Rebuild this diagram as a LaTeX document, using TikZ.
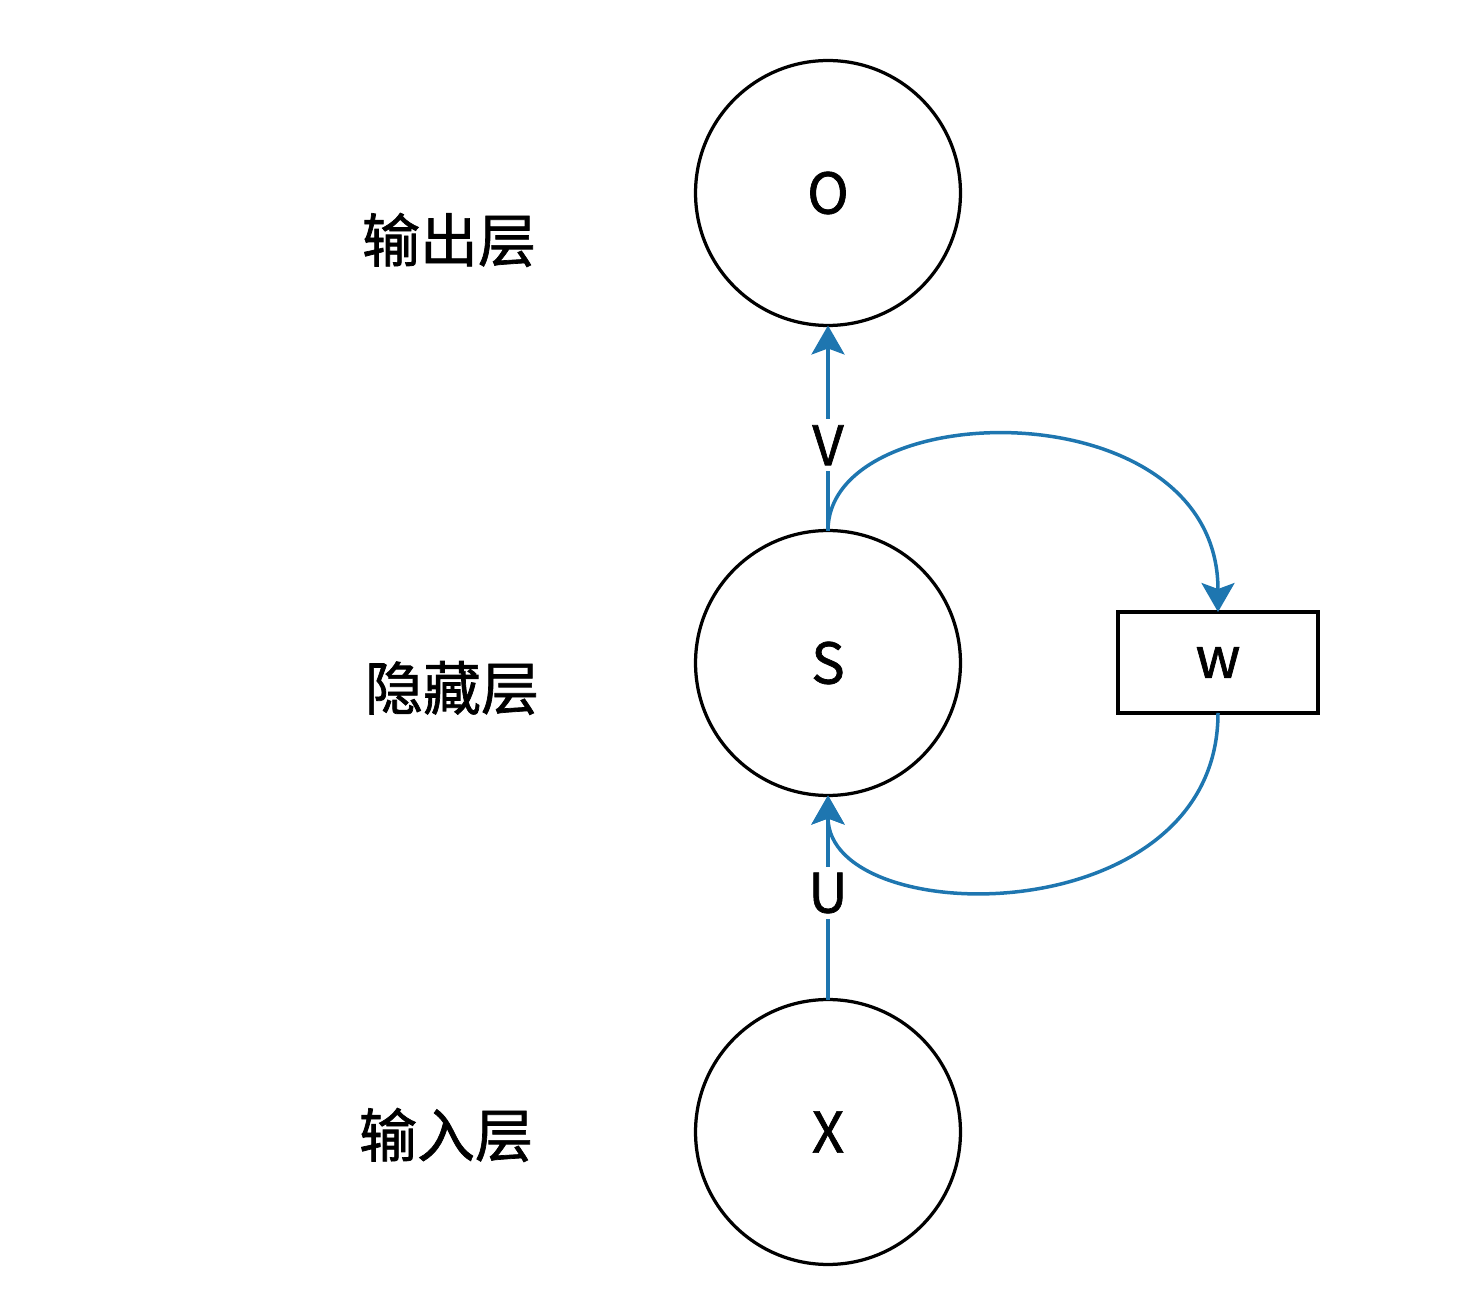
\documentclass[tikz,border=0pt]{standalone}
\usepackage{fontspec}
\setmainfont{Noto Sans CJK SC}[FakeBold=1.2]
\usetikzlibrary{arrows.meta}
\definecolor{lineblue}{RGB}{30,118,176}
\tikzset{
  neuron/.style={circle, draw=black, line width=0.065cm, minimum size=5.3cm, inner sep=0pt, outer sep=0pt, font=\fontsize{32}{36}\selectfont},
  wbox/.style={rectangle, draw=black, line width=0.065cm, minimum width=4.0cm, minimum height=2.02cm, inner sep=0pt, outer sep=0pt, font=\fontsize{32}{36}\selectfont},
  layerlabel/.style={font=\fontsize{33}{36}\selectfont, inner sep=0pt},
  wlabel/.style={fill=white, font=\fontsize{31}{36}\selectfont, inner sep=0.12cm},
  conn/.style={draw=lineblue, line width=0.07cm},
  tip/.style={-{Stealth[length=0.58cm, width=0.66cm, inset=0.12cm]}}
}
\begin{document}
\begin{tikzpicture}[x=0.02cm, y=-0.02cm]
\useasboundingbox (0,0) rectangle (1468,1290);
\node[neuron] (o) at (828,193) {O};
\node[neuron] (s) at (828,663) {S};
\node[neuron] (x) at (828,1132) {X};
\node[wbox] (w) at (1218,662.5) {w};
\node[layerlabel] (lo) at (449,240) {输出层};
\node[layerlabel] (ls) at (452,688) {隐藏层};
\node[layerlabel] (lx) at (446,1135) {输入层};
\draw[conn, tip] (s.north) -- node[wlabel, text=black, pos=0.416] (vl) {V} (o.south);
\draw[conn, tip] (x.north) -- node[wlabel, text=black, pos=0.522] (ul) {U} (s.south);
\draw[conn, tip] (s.north) .. controls (828,395) and (1218,387) .. (w.north);
\draw[conn, tip] (w.south) .. controls (1218,935) and (828,931) .. (s.south);
\end{tikzpicture}
\end{document}
